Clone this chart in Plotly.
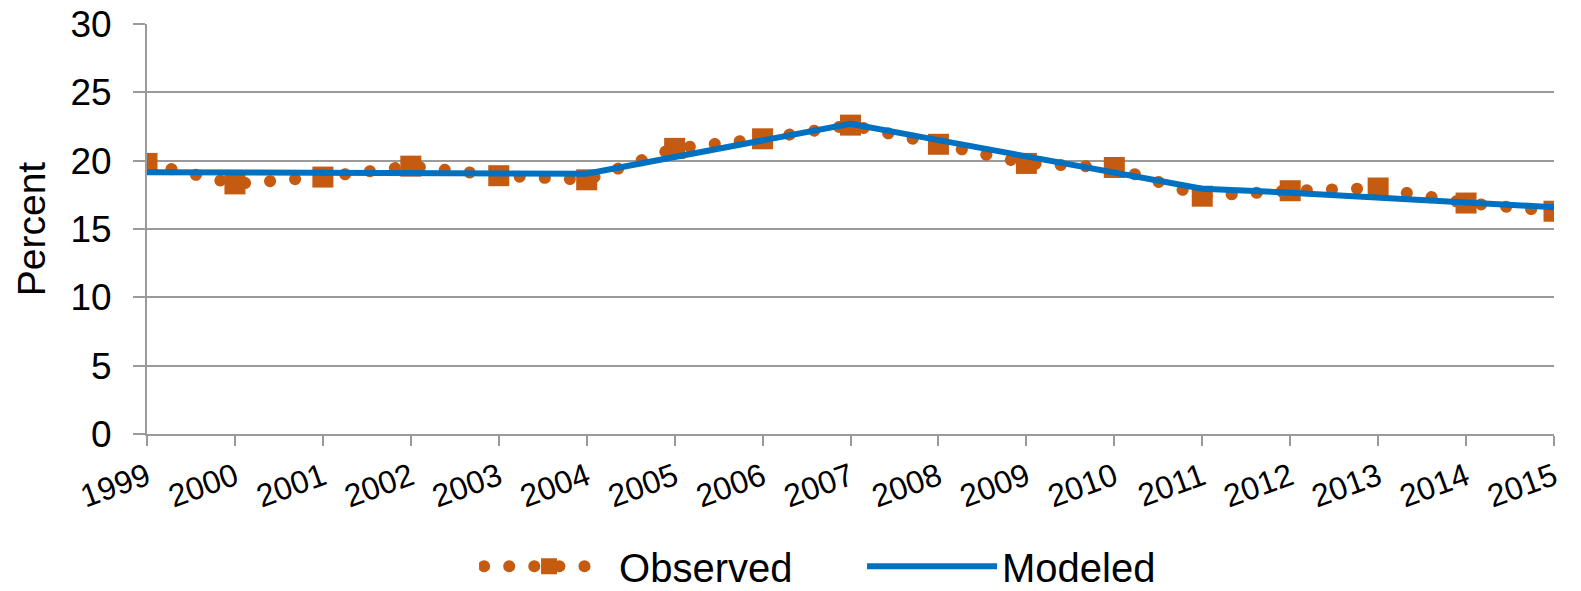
import json
import plotly.graph_objects as go

years = list(range(1999, 2016))
year_labels = [str(y) for y in years]
observed = [19.8, 18.3, 18.8, 19.6, 18.9, 18.6, 20.9, 21.6, 22.6, 21.2,
            19.8, 19.5, 17.4, 17.8, 18.0, 16.9, 16.3]
modeled = [19.15, 19.13, 19.11, 19.09, 19.07, 19.05, 20.27, 21.5, 22.7, 21.5,
           20.33, 19.14, 17.95, 17.66, 17.27, 16.93, 16.6]
y_ticks = [0, 5, 10, 15, 20, 25, 30]

ORANGE = "#C55A11"
BLUE = "#0070C0"
GRID = "#9a9a9a"
FONT = "Liberation Sans, Arial, sans-serif"

fig = go.Figure()
fig.add_trace(go.Scatter(
    x=years, y=observed, name="Observed", mode="lines+markers",
    line=dict(color=ORANGE, width=12, dash="dot"),
    marker=dict(symbol="square", size=21, color=ORANGE),
))
fig.add_trace(go.Scatter(
    x=years, y=modeled, name="Modeled", mode="lines",
    line=dict(color=BLUE, width=6),
))

fig.update_layout(
    width=1581, height=591,
    margin=dict(l=147, r=27, t=24, b=157),
    plot_bgcolor="white", paper_bgcolor="white",
    font=dict(family=FONT, color="black"),
    showlegend=True,
    legend=dict(orientation="h", xref="container", x=0.303, xanchor="left",
                yref="container", y=0.042, yanchor="middle",
                font=dict(size=40), itemwidth=130, entrywidth=238,
                bgcolor="rgba(0,0,0,0)"),
)
fig.update_xaxes(
    range=[1999, 2015], tickmode="array", tickvals=years, ticktext=year_labels,
    tickangle=-20, tickfont=dict(size=32), ticks="outside", ticklen=10,
    tickwidth=2, tickcolor=GRID, showline=True, linecolor=GRID, linewidth=2,
    showgrid=False, zeroline=False, automargin=False,
)
fig.update_yaxes(
    range=[0, 30], tickmode="array", tickvals=y_ticks,
    tickfont=dict(size=37), ticks="outside", ticklen=12, tickwidth=2,
    tickcolor=GRID, showline=True, linecolor=GRID, linewidth=2,
    showgrid=True, gridcolor=GRID, gridwidth=2, zeroline=False,
    ticklabelstandoff=14, automargin=False,
    title=dict(text="Percent", font=dict(size=39), standoff=13),
)

css = ("html,body{margin:0 !important;padding:0 !important;overflow:hidden;}"
       ".scatterlayer .trace:first-child path.js-line{stroke-linecap:round !important;"
       "stroke-dasharray:0.1px 25px !important;stroke-width:12px !important;}"
       ".legend .traces:first-child path.js-line{stroke-linecap:round !important;"
       "stroke-dasharray:0.1px 25px 0.1px 25px 0.1px 25px 0.1px 25px 0.1px 400px !important;"
       "stroke-width:12px !important;}")
post = ("var s=document.createElement('style');s.innerHTML=%s;"
        "document.head.appendChild(s);" % json.dumps(css))

fig.write_html("out.html", post_script=post, config={"displayModeBar": False})
